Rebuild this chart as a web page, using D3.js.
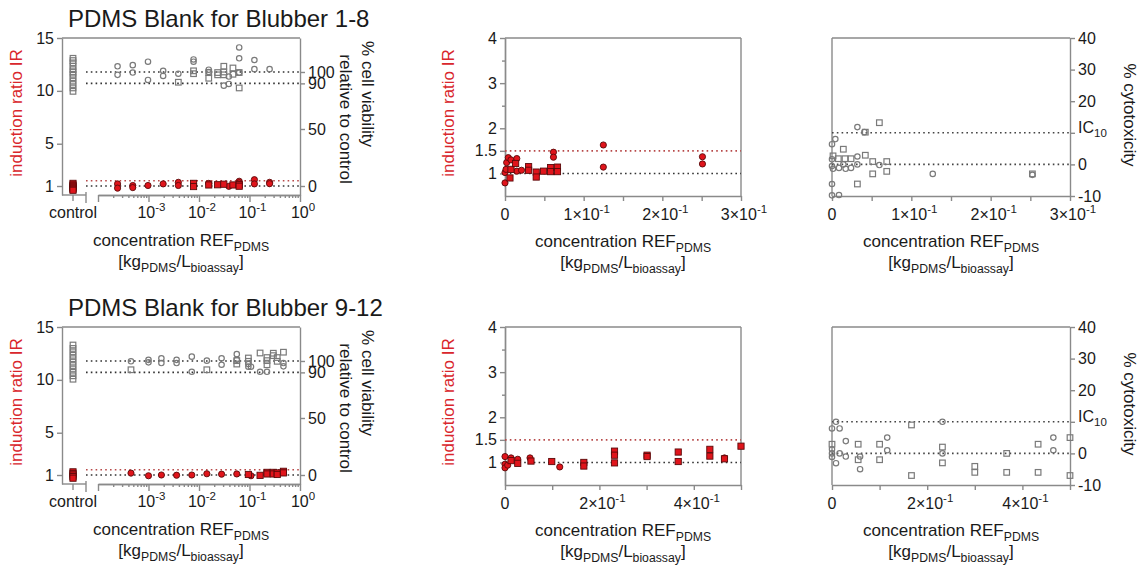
<!DOCTYPE html>
<html>
<head>
<meta charset="utf-8">
<script src="https://cdn.jsdelivr.net/npm/d3@7"></script>
<style>
body { margin: 0; background: #fff; }
text { font-family: "Liberation Sans", Arial, sans-serif; fill: #1a1a1a; }
</style>
</head>
<body>
<div id="chart"></div>
<script>
// ---------------- data ----------------
// Blubber 1-8, log panel: [concentration, % viability] and [concentration, IR]
var ctrlViab1 = [83, 86, 89, 92, 95, 98, 100, 102, 105, 108, 110, 112];
var ctrlIR1 = [1.25, 1.1, 1.0, 0.9, 0.8, 0.7, 0.6];
var viabCirc1 = [[0.000244,105],[0.000244,97.5],[0.000488,106],[0.000488,99.5],[0.000977,109],[0.000977,93],
  [0.00195,101],[0.00195,96.5],[0.0039,98.5],[0.0078,111],[0.0078,109],[0.0156,102],[0.0156,100],
  [0.039,96],[0.039,89.5],[0.0625,121.5],[0.0625,112],[0.0625,99.5],[0.125,110.5],[0.125,102.5],[0.25,102.5],[0.031,88]];
var viabSq1 = [[0.0039,91],[0.0078,101],[0.0078,98.5],[0.0156,99.5],[0.0156,94.5],[0.0234,99.5],[0.0234,97.5],
  [0.031,105],[0.031,100],[0.031,97.5],[0.047,103.5],[0.047,98],[0.0625,99.5],[0.0625,86]];
var irCirc1 = [[0.000244,1.2],[0.000244,0.8],[0.000488,1.05],[0.000488,0.85],[0.000977,1.05],[0.00195,1.2],
  [0.0039,1.35],[0.0039,1.05],[0.0156,1.25],[0.039,0.97],[0.0625,1.45],[0.0625,1.3],[0.125,1.6],[0.125,1.2],[0.25,1.35],[0.25,1.22]];
var irSq1 = [[0.0078,1.25],[0.0078,0.95],[0.0156,1.1],[0.0234,1.12],[0.031,1.17],[0.047,1.1],[0.0625,1.12],[0.0625,0.98]];

// Blubber 1-8, linear IR panel
var irCirc2 = [[0,0.79],[0,1.02],[0.0013,1.09],[0.0021,1.24],[0.0042,1.35],[0.0076,1.3],[0.015,1.33],[0.015,1.05],
  [0.021,1.07],[0.0616,1.47],[0.0616,1.36],[0.125,1.63],[0.125,1.14],[0.251,1.37],[0.251,1.21]];
var irSq2 = [[0.0063,0.9],[0.0076,1.09],[0.0135,1.22],[0.030,1.15],[0.030,1.07],[0.0397,1.03],[0.0397,0.92],
  [0.049,1.05],[0.058,1.13],[0.058,1.04],[0.0667,1.14],[0.0667,1.04]];

// Blubber 1-8, % cytotoxicity panel
var cytoCirc3 = [[0,6.4],[0.0042,8.0],[0,1.6],[0,-0.5],[0,-6.2],[0,-9.8],[0.0088,-9.7],[0.0013,-1.4],[0.0088,-1.1],
  [0.0143,0],[0.0172,-1.4],[0.024,-1.1],[0.032,11.8],[0.032,2.5],[0.032,0],[0.0408,10.2],[0.0597,-0.2],[0.127,-3],[0.2526,-3.3]];
var cytoSq3 = [[0.0013,2.7],[0.008,1.8],[0.0143,4.8],[0.0164,1.8],[0.024,1.8],[0.032,-6.2],[0.042,10.2],[0.042,2.9],
  [0.0513,0.9],[0.0513,-3],[0.0597,13.2],[0.069,0.9],[0.069,-2.2],[0.2526,-3.0]];

// Blubber 9-12, log panel
var ctrlViab4 = [84, 87, 90, 93, 96, 99, 102, 105, 108, 111, 114];
var ctrlIR4 = [1.3, 1.15, 1.0, 0.85, 0.7];
var viabCirc4 = [[0.00045,99.7],[0.001,101],[0.001,98.8],[0.0018,102.4],[0.0018,98.2],[0.0036,101],[0.0036,98.2],
  [0.0072,103.8],[0.0072,90.5],[0.0143,100.3],[0.028,102.4],[0.028,96.7],[0.056,106],[0.056,101],[0.095,97.3],
  [0.095,95],[0.107,95],[0.162,90.5],[0.222,90.5],[0.47,98.2],[0.47,95.3]];
var viabSq4 = [[0.00045,92.3],[0.0143,92.3],[0.056,100.3],[0.056,97.3],[0.095,102.6],[0.095,99.7],[0.162,107],
  [0.222,103],[0.222,100.3],[0.222,96.7],[0.296,106.8],[0.296,104.7],[0.354,103],[0.354,99.7],[0.47,107.7]];
var irCirc4 = [[0.00045,1.18],[0.001,0.93],[0.0018,1.0],[0.0036,0.98],[0.0072,1.0],[0.0143,1.12],[0.028,1.08],[0.056,1.1],[0.107,0.93]];
var irSq4 = [[0.095,1.05],[0.162,0.97],[0.222,1.25],[0.222,1.1],[0.296,1.25],[0.296,1.1],[0.354,1.2],[0.354,1.05],[0.47,1.35],[0.47,1.2]];

// Blubber 9-12, linear IR panel
var irCirc5 = [[0,1.13],[0,0.96],[0,0.88],[0.0057,0.94],[0.0128,1.1],[0.027,1.07],[0.053,1.1],[0.116,0.9],[0.465,1.1]];
var irSq5 = [[0.0128,1.04],[0.027,0.98],[0.055,1.03],[0.099,1.02],[0.167,1.0],[0.167,0.92],[0.232,1.25],[0.232,1.16],
  [0.232,0.99],[0.301,1.16],[0.301,1.13],[0.367,1.23],[0.367,1.02],[0.434,1.29],[0.434,1.14],[0.465,1.08],[0.5,1.36]];

// Blubber 9-12, % cytotoxicity panel
var cytoCirc6 = [[0.0084,10],[0,7.9],[0.016,7.9],[0.029,3.9],[0.116,5],[0.116,1],[0,1.3],[0,0],[0,-1.1],[0.0084,-3.1],
  [0.016,0],[0.029,-1],[0.059,-1],[0.059,-5],[0.232,10],[0.232,0],[0.465,5],[0.465,1]];
var cytoSq6 = [[0,2.9],[0.055,2.9],[0.1,2.9],[0.055,-2],[0.1,-2],[0.167,9],[0.167,-7],[0.232,2],[0.232,-3],[0.3,-4.1],
  [0.3,-6],[0.367,0],[0.367,-6],[0.433,2.9],[0.433,-6],[0.5,5],[0.5,-7]];

var titles = ["PDMS Blank for Blubber 1-8", "PDMS Blank for Blubber 9-12"];
var logTicks = [1e-3, 1e-2, 1e-1, 1];
var logTickExp = ["-3", "-2", "-1", "0"];

// ---------------- setup ----------------
var axisCol = "#8a8a8a",
    redCol = "#e0141b",
    redLabel = "#d9262c",
    grayMark = "#7a7a7a";

var svg = d3.select("#chart")
  .append("svg")
  .attr("width", 1148)
  .attr("height", 565);

// text with sub / superscripts: parts = [[string, "n"|"sub"|"sup"], ...]
function rich(sel, parts, size) {
  var shift = 0;
  parts.forEach(function(p) {
    var target = p[1] == "sup" ? -0.42 * size : (p[1] == "sub" ? 0.27 * size : 0);
    var t = sel.append("tspan").text(p[0]).attr("dy", target - shift);
    if (p[1] != "n") t.style("font-size", (size * 0.72) + "px");
    shift = target;
  });
  return sel;
}

function styleAxis(a) {
  a.attr("font-family", null).attr("font-size", null);
  a.select(".domain").attr("stroke", axisCol).attr("stroke-width", 1.4);
  a.selectAll(".tick line").attr("stroke", axisCol).attr("stroke-width", 1.4);
  a.selectAll(".tick text").attr("fill", "#1a1a1a").style("font-size", "16px");
}

function dotted(g, x1, x2, y, col) {
  g.append("line")
    .attr("x1", x1).attr("x2", x2).attr("y1", y).attr("y2", y)
    .attr("stroke", col).attr("stroke-width", 1.6)
    .attr("stroke-dasharray", "1.6,3.2");
}

function circles(g, data, x, y, red) {
  g.selectAll(null).data(data).enter().append("circle")
    .attr("cx", function(d) { return x(d[0]); })
    .attr("cy", function(d) { return y(d[1]); })
    .attr("r", red ? 3.1 : 2.7)
    .attr("fill", red ? redCol : "none")
    .attr("stroke", red ? "#5a0a0a" : grayMark)
    .attr("stroke-width", red ? 0.9 : 1.2);
}

function squares(g, data, x, y, red) {
  var s = red ? 6.2 : 5.6;
  g.selectAll(null).data(data).enter().append("rect")
    .attr("x", function(d) { return x(d[0]) - s / 2; })
    .attr("y", function(d) { return y(d[1]) - s / 2; })
    .attr("width", s).attr("height", s)
    .attr("fill", red ? redCol : "none")
    .attr("stroke", red ? "#5a0a0a" : grayMark)
    .attr("stroke-width", red ? 0.9 : 1.2);
}

function xLabel(g, cx, base) {
  rich(g.append("text").attr("x", cx).attr("y", base).attr("text-anchor", "middle").style("font-size", "17px"),
    [["concentration REF", "n"], ["PDMS", "sub"]], 17);
  rich(g.append("text").attr("x", cx).attr("y", base + 21).attr("text-anchor", "middle").style("font-size", "17px"),
    [["[kg", "n"], ["PDMS", "sub"], ["/L", "n"], ["bioassay", "sub"], ["]", "n"]], 17);
}

function irLabel(g, x, cy) {
  g.append("text")
    .attr("transform", "translate(" + x + "," + cy + ") rotate(-90)")
    .attr("text-anchor", "middle")
    .attr("dy", "0.35em")
    .style("font-size", "17px")
    .style("fill", redLabel)
    .text("induction ratio IR");
}

function rightLabel(g, x, cy, txt) {
  g.append("text")
    .attr("transform", "translate(" + x + "," + cy + ") rotate(90)")
    .attr("text-anchor", "middle")
    .attr("dy", "0.35em")
    .style("font-size", "17px")
    .text(txt);
}

// ---------------- left: log panel with control ----------------
function logPanel(t, title, ctrlV, ctrlIR, vC, vS, iC, iS) {
  var b = t + 157;
  var L = 62, R = 300, xCtrl = 73, brk = 86;
  var g = svg.append("g");
  var x = d3.scaleLog().domain([1e-4, 1]).range([98, R]);
  var yI = d3.scaleLinear().domain([0.15, 15]).range([b, t]);
  var yV = d3.scaleLinear().domain([-7.9, 129.8]).range([b, t]);

  g.append("text").attr("x", 68).attr("y", t - 11).style("font-size", "24px").text(title);

  // frame top
  g.append("line").attr("x1", L).attr("x2", R).attr("y1", t).attr("y2", t)
    .attr("stroke", axisCol).attr("stroke-width", 1.4);

  // left axis
  var la = g.append("g").attr("transform", "translate(" + L + ",0)")
    .call(d3.axisLeft(yI).tickValues([1, 5, 10, 15]).tickSize(5).tickSizeOuter(0).tickPadding(3));
  styleAxis(la);

  // right axis (100 and 90 labels overlap, as in the original figure)
  var ra = g.append("g").attr("transform", "translate(" + R + ",0)")
    .call(d3.axisRight(yV).tickValues([0, 50, 90, 100]).tickSize(5).tickSizeOuter(0).tickPadding(3));
  styleAxis(ra);

  // bottom: control segment + log axis
  g.append("line").attr("x1", L).attr("x2", brk).attr("y1", b).attr("y2", b)
    .attr("stroke", axisCol).attr("stroke-width", 1.4);
  g.append("line").attr("x1", xCtrl).attr("x2", xCtrl).attr("y1", b).attr("y2", b + 6)
    .attr("stroke", axisCol).attr("stroke-width", 1.4);
  g.append("line").attr("x1", brk).attr("x2", brk).attr("y1", b - 3).attr("y2", b + 8)
    .attr("stroke", axisCol).attr("stroke-width", 1.4);
  var minor = [];
  [-4, -3, -2, -1].forEach(function(e) {
    for (var k = 2; k <= 9; k++) minor.push(k * Math.pow(10, e));
  });
  var bm = g.append("g").attr("transform", "translate(0," + b + ")")
    .call(d3.axisBottom(x).tickValues(minor).tickSize(3).tickSizeOuter(0).tickFormat(""));
  styleAxis(bm);
  var bM = g.append("g").attr("transform", "translate(0," + b + ")")
    .call(d3.axisBottom(x).tickValues([1e-4, 1e-3, 1e-2, 1e-1, 1]).tickSize(7).tickSizeOuter(0).tickFormat(""));
  styleAxis(bM);
  logTicks.forEach(function(v, i) {
    rich(g.append("text").attr("x", x(v) + 3).attr("y", b + 23).attr("text-anchor", "middle").style("font-size", "16px"),
      [["10", "n"], [logTickExp[i], "sup"]], 16);
  });
  g.append("text").attr("x", xCtrl).attr("y", b + 23).attr("text-anchor", "middle")
    .style("font-size", "16px").text("control");

  // reference lines
  dotted(g, brk, R, yV(100), "#333");
  dotted(g, brk, R, yV(90), "#333");
  dotted(g, brk, R, yI(1.5), "#b84a4a");
  dotted(g, brk, R, yI(1), "#333");

  // control markers
  var cx = function() { return xCtrl; };
  squares(g, ctrlV.map(function(v) { return [0, v]; }), cx, yV, false);
  squares(g, ctrlIR.map(function(v) { return [0, v]; }), cx, yI, true);

  circles(g, vC, x, yV, false);
  squares(g, vS, x, yV, false);
  circles(g, iC, x, yI, true);
  squares(g, iS, x, yI, true);

  irLabel(g, 16, t + 75);
  rightLabel(g, 368, t + 56, "% cell viability");
  rightLabel(g, 346, t + 81, "relative to control");
  xLabel(g, (L + R) / 2, b + 51);
}

// ---------------- middle: linear IR panel ----------------
function irPanel(t, xmax, step, labelVals, iC, iS) {
  var b = t + 158;
  var L = 505, R = 741;
  var g = svg.append("g");
  var x = d3.scaleLinear().domain([0, xmax]).range([L, R]);
  var y = d3.scaleLinear().domain([0.5, 4]).range([b, t]);

  g.append("line").attr("x1", L).attr("x2", R).attr("y1", t).attr("y2", t)
    .attr("stroke", axisCol).attr("stroke-width", 1.4);
  g.append("line").attr("x1", R).attr("x2", R).attr("y1", t).attr("y2", b)
    .attr("stroke", axisCol).attr("stroke-width", 1.4);

  var la = g.append("g").attr("transform", "translate(" + L + ",0)")
    .call(d3.axisLeft(y).tickValues([1, 1.5, 2, 3, 4]).tickSize(5).tickSizeOuter(0).tickPadding(3)
      .tickFormat(function(d) { return String(d); }));
  styleAxis(la);
  var lm = g.append("g").attr("transform", "translate(" + L + ",0)")
    .call(d3.axisLeft(y).tickValues([2.5, 3.5]).tickSize(3).tickSizeOuter(0).tickFormat(""));
  styleAxis(lm);

  var ticks = d3.range(0, xmax + 1e-9, step);
  var ba = g.append("g").attr("transform", "translate(0," + b + ")")
    .call(d3.axisBottom(x).tickValues(ticks).tickSize(5).tickSizeOuter(0).tickFormat(""));
  styleAxis(ba);
  labelVals.forEach(function(v) {
    var tx = g.append("text").attr("x", x(v) + (v ? 3 : 0)).attr("y", b + 24).attr("text-anchor", "middle").style("font-size", "16px");
    if (v == 0) tx.text("0");
    else rich(tx, [[Math.round(v * 10) + "\u00d710", "n"], ["-1", "sup"]], 16);
  });

  dotted(g, L, R, y(1.5), "#b84a4a");
  dotted(g, L, R, y(1), "#333");

  circles(g, iC, x, y, true);
  squares(g, iS, x, y, true);

  irLabel(g, 448, t + 75);
  xLabel(g, (L + R) / 2, b + 51);
}

// ---------------- right: % cytotoxicity panel ----------------
function cytoPanel(t, xmax, step, labelVals, cC, cS) {
  var b = t + 158;
  var L = 832, R = 1070;
  var g = svg.append("g");
  var x = d3.scaleLinear().domain([0, xmax]).range([L, R]);
  var y = d3.scaleLinear().domain([-10, 40]).range([b, t]);

  g.append("line").attr("x1", L).attr("x2", R).attr("y1", t).attr("y2", t)
    .attr("stroke", axisCol).attr("stroke-width", 1.4);
  g.append("line").attr("x1", L).attr("x2", L).attr("y1", t).attr("y2", b)
    .attr("stroke", axisCol).attr("stroke-width", 1.4);

  var ra = g.append("g").attr("transform", "translate(" + R + ",0)")
    .call(d3.axisRight(y).tickValues([-10, 0, 10, 20, 30, 40]).tickSize(5).tickSizeOuter(0).tickPadding(3)
      .tickFormat(function(d) { return d == 10 ? "" : String(d); }));
  styleAxis(ra);
  rich(g.append("text").attr("x", R + 8).attr("y", y(10)).attr("dy", "0.35em").style("font-size", "16px"),
    [["IC", "n"], ["10", "sub"]], 16);

  var ticks = d3.range(0, xmax + 1e-9, step);
  var ba = g.append("g").attr("transform", "translate(0," + b + ")")
    .call(d3.axisBottom(x).tickValues(ticks).tickSize(5).tickSizeOuter(0).tickFormat(""));
  styleAxis(ba);
  labelVals.forEach(function(v) {
    var tx = g.append("text").attr("x", x(v) + (v ? 3 : 0)).attr("y", b + 24).attr("text-anchor", "middle").style("font-size", "16px");
    if (v == 0) tx.text("0");
    else rich(tx, [[Math.round(v * 10) + "\u00d710", "n"], ["-1", "sup"]], 16);
  });

  dotted(g, L, R, y(10), "#444");
  dotted(g, L, R, y(0), "#444");

  circles(g, cC, x, y, false);
  squares(g, cS, x, y, false);

  rightLabel(g, 1130, t + 77, "% cytotoxicity");
  xLabel(g, (L + R) / 2, b + 51);
}

// ---------------- draw ----------------
logPanel(38, titles[0], ctrlViab1, ctrlIR1, viabCirc1, viabSq1, irCirc1, irSq1);
irPanel(38, 0.3, 0.05, [0, 0.1, 0.2, 0.3], irCirc2, irSq2);
cytoPanel(38, 0.3, 0.05, [0, 0.1, 0.2, 0.3], cytoCirc3, cytoSq3);

logPanel(327, titles[1], ctrlViab4, ctrlIR4, viabCirc4, viabSq4, irCirc4, irSq4);
irPanel(327, 0.5, 0.1, [0, 0.2, 0.4], irCirc5, irSq5);
cytoPanel(327, 0.5, 0.1, [0, 0.2, 0.4], cytoCirc6, cytoSq6);
</script>
</body>
</html>
